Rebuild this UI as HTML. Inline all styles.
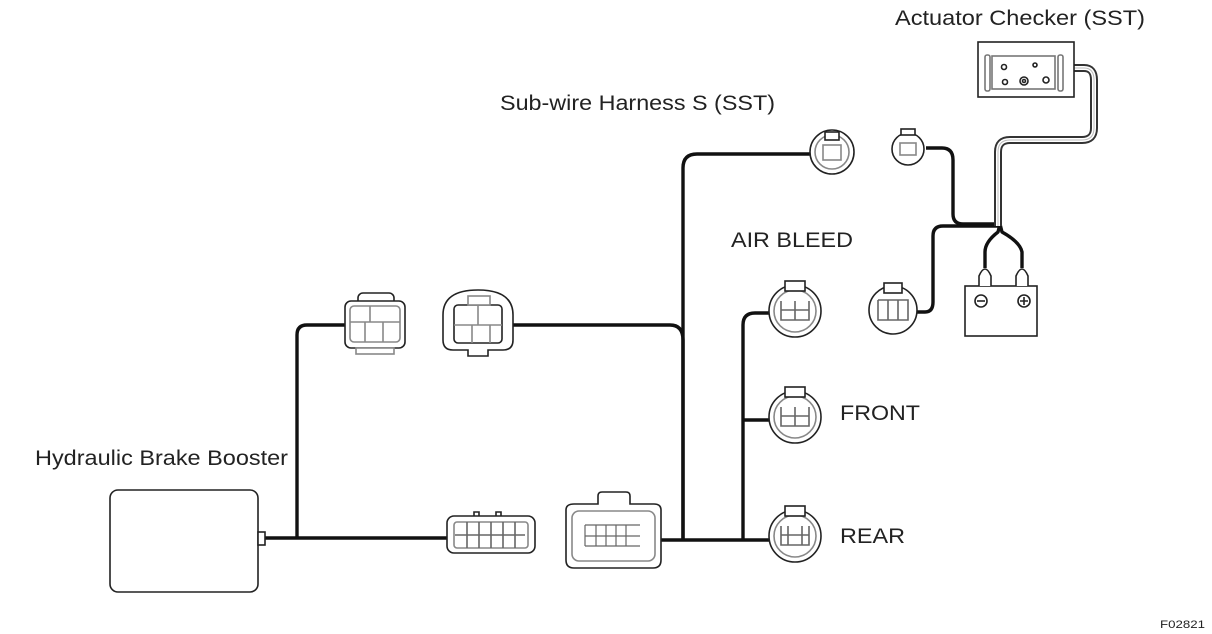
<!DOCTYPE html>
<html><head><meta charset="utf-8"><style>
body{margin:0;background:#fff;width:1212px;height:634px;overflow:hidden}
svg{display:block}
text{font-family:"Liberation Sans",sans-serif;fill:#222}
</style></head><body>
<svg width="1212" height="634" viewBox="0 0 1212 634" xmlns="http://www.w3.org/2000/svg">
<g fill="none" stroke="#111" stroke-width="3.4" stroke-linejoin="round">
<path d="M265 538 H448"/>
<path d="M297 538 V335 Q297 325 307 325 H345"/>
<path d="M513 325 H670 Q683 325 683 340 V540"/>
<path d="M660 540 H772"/>
<path d="M683 540 V168 Q683 154 697 154 H810"/>
<path d="M743 540 V325 Q743 313 755 313 H770"/>
<path d="M743 420 H770"/>
<path d="M926 148 H942 Q953 148 953 160 V214 Q953 224 963 224 H1000"/>
<path d="M916 312 H925 Q933 312 933 302 V236 Q933 226 943 226 H1000"/>
<path d="M1000 224 L998 232 Q985 242 985 252 V268"/>
<path d="M1000 224 L1002 232 Q1020 242 1022 252 V268"/>
</g>
<path d="M1072 68 H1084 Q1094 68 1094 80 V128 Q1094 140 1082 140 H1010 Q998 140 998 152 V226" fill="none" stroke="#333" stroke-width="8"/>
<path d="M1072 68 H1084 Q1094 68 1094 80 V128 Q1094 140 1082 140 H1010 Q998 140 998 152 V226" fill="none" stroke="#fff" stroke-width="4"/>
<path d="M1072 68 H1084 Q1094 68 1094 80 V128 Q1094 140 1082 140 H1010 Q998 140 998 152 V226" fill="none" stroke="#bbb" stroke-width="1"/>
<g fill="#fff" stroke="#222" stroke-width="1.6">
<rect x="110" y="490" width="148" height="102" rx="8"/>
<rect x="258" y="532" width="7" height="13"/>
<rect x="358" y="293" width="36" height="14" rx="5"/>
<rect x="345" y="301" width="60" height="47" rx="6"/>
<rect x="350" y="306" width="50" height="36" rx="4" stroke="#888"/>
<path d="M370 306 V322 M350 322 H400 M365 322 V342 M383 322 V342" stroke="#888"/>
<rect x="356" y="348" width="38" height="6" stroke="#888"/>
<path d="M443 315 Q443 290 478 290 Q513 290 513 315 V340 Q513 350 503 350 H488 V356 H468 V350 H453 Q443 350 443 340 Z"/>
<rect x="454" y="305" width="48" height="38" rx="4"/>
<rect x="468" y="296" width="22" height="9" stroke="#888"/>
<path d="M478 305 V325 M454 325 H502 M472 325 V343 M490 325 V343" stroke="#888"/>
<path d="M474 520 V512 H479 V517 H496 V512 H501 V520"/>
<rect x="447" y="516" width="88" height="37" rx="7"/>
<rect x="454" y="522" width="74" height="26" rx="3" stroke="#888"/>
<path d="M455 535 H525 M467 522 V548 M479 522 V548 M491 522 V548 M503 522 V548 M515 522 V548" stroke="#666"/>
<path d="M566 510 Q566 504 574 504 H598 V496 Q598 492 602 492 H626 Q630 492 630 496 V504 H654 Q661 504 661 510 V560 Q661 568 653 568 H574 Q566 568 566 560 Z"/>
<rect x="572" y="511" width="83" height="50" rx="7" stroke="#888"/>
<path d="M585 525 H640 M585 536 H640 M585 546 H640 M585 525 V546 M596 525 V546 M606 525 V546 M616 525 V546 M626 525 V546" stroke="#666" stroke-width="1.2"/>
<circle cx="832" cy="152" r="22"/><circle cx="832" cy="152" r="17" stroke="#888"/>
<rect x="823" y="145" width="18" height="15" stroke="#888"/>
<rect x="825" y="132" width="14" height="8"/>
<circle cx="908" cy="149" r="16"/><rect x="900" y="143" width="16" height="12" stroke="#888"/><rect x="901" y="129" width="14" height="6"/>
<circle cx="795" cy="311" r="26"/><circle cx="795" cy="311" r="21" stroke="#888"/><rect x="785" y="281" width="20" height="10"/>
<path d="M781 301 V320 H809 V301 M795 301 V320 M781 310 H809" stroke="#666"/>
<circle cx="795" cy="417" r="26"/><circle cx="795" cy="417" r="21" stroke="#888"/><rect x="785" y="387" width="20" height="10"/>
<path d="M781 407 V426 H809 V407 M795 407 V426 M781 416 H809" stroke="#666"/>
<circle cx="795" cy="536" r="26"/><circle cx="795" cy="536" r="21" stroke="#888"/><rect x="785" y="506" width="20" height="10"/>
<path d="M781 526 V545 H809 V526 M788 526 V545 M802 526 V545 M781 535 H809" stroke="#666"/>
<circle cx="893" cy="310" r="24"/><rect x="884" y="283" width="18" height="10"/>
<path d="M878 300 V320 H908 V300 H878 M888 300 V320 M898 300 V320" stroke="#666"/>
<rect x="978" y="42" width="96" height="55"/>
<rect x="992" y="56" width="63" height="33" stroke="#777"/>
<rect x="985" y="55" width="5" height="36" rx="2" stroke="#777"/>
<rect x="1058" y="55" width="5" height="36" rx="2" stroke="#777"/>
<circle cx="1004" cy="67" r="2.5"/><circle cx="1035" cy="65" r="2"/><circle cx="1005" cy="82" r="2.5"/><circle cx="1024" cy="81" r="4"/><circle cx="1024" cy="81" r="1.5"/><circle cx="1046" cy="80" r="3"/>
<rect x="965" y="286" width="72" height="50"/>
<path d="M979 286 V276 Q985 262 991 276 V286" />
<path d="M1016 286 V276 Q1022 262 1028 276 V286" />
<circle cx="981" cy="301" r="6"/><path d="M977 301 H985"/>
<circle cx="1024" cy="301" r="6"/><path d="M1020 301 H1028 M1024 297 V305"/>
</g>
<text x="895" y="25" font-size="21" textLength="250" lengthAdjust="spacingAndGlyphs">Actuator Checker (SST)</text>
<text x="500" y="110" font-size="21" textLength="275" lengthAdjust="spacingAndGlyphs">Sub-wire Harness S (SST)</text>
<text x="731" y="247" font-size="21" textLength="122" lengthAdjust="spacingAndGlyphs">AIR BLEED</text>
<text x="840" y="420" font-size="21" textLength="80" lengthAdjust="spacingAndGlyphs">FRONT</text>
<text x="840" y="543" font-size="21" textLength="65" lengthAdjust="spacingAndGlyphs">REAR</text>
<text x="35" y="465" font-size="21" textLength="253" lengthAdjust="spacingAndGlyphs">Hydraulic Brake Booster</text>
<text x="1160" y="628" font-size="11" textLength="45" lengthAdjust="spacingAndGlyphs">F02821</text>
</svg>
</body></html>
